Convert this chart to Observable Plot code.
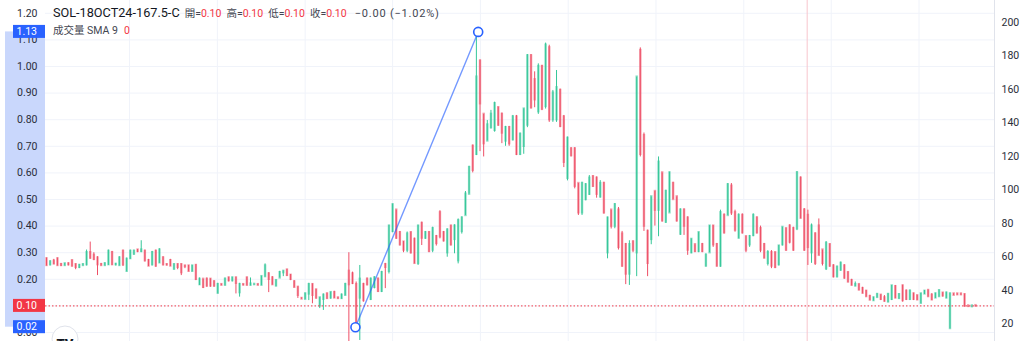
<!DOCTYPE html>
<html>
<head>
<meta charset="utf-8">
<script src="https://cdn.jsdelivr.net/npm/d3@7"></script>
<script src="https://cdn.jsdelivr.net/npm/@observablehq/plot@0.6"></script>
<style>
  html, body { margin: 0; padding: 0; background: #fff; overflow: hidden; }
  #wrap { position: relative; width: 1024px; height: 341px; }
  #hdr { position: absolute; left: 53px; top: 3px; font-family: Roboto, "Noto Sans CJK TC", sans-serif; color: #131722; pointer-events: none; white-space: nowrap; }
  #l1 { height: 18px; line-height: 18px; }
  #l1 .sym { font-size: 12.7px; }
  #l1 .it { font-size: 10.5px; margin-left: 5px; color: #434651; }
  #l1 .it:first-of-type { margin-left: 11px; }
  #l1 .chg { font-size: 11px; letter-spacing: 0.8px; margin-left: 8px; }
  .v { color: #f23645; }
  #l2 { font-size: 10.5px; line-height: 14px; margin-top: 3px; color: #434651; }
  #l2 .v { margin-left: 6px; }
</style>
</head>
<body>
<div id="wrap">
  <div id="chart"></div>
  <div id="hdr"><div id="l1"></div><div id="l2"></div></div>
</div>
<script>
// ---------- data ----------
const symbol = "SOL-18OCT24-167.5-C";
const ohlcLabels = ["開", "高", "低", "收"];
const changeAbs = -0.001;
const changePct = -1.02;
const volumeLabel = "成交量 SMA 9";
const volumeValue = 0;

const open = [
.277,.255,.268,.277,.255,.252,.258,.27,.255,.245,
.252,.255,.30,.29,.28,.255,.252,.255,.30,.255,
.252,.305,.23,.278,.295,.31,.305,.305,.27,.255,
.305,.262,.28,.255,.27,.238,.255,.255,.25,.25,
.23,.252,.18,.20,.20,.20,.19,.148,.18,.178,
.205,.195,.205,.15,.18,.205,.178,.18,.18,.178,
.21,.22,.205,.175,.205,.225,.235,.215,.19,.17,
.128,.125,.145,.18,.16,.10,.125,.145,.13,.15,
.13,.128,.14,.23,.22,.18,.13,.18,.20,.125,
.17,.20,.155,.255,.23,.38,.46,.375,.34,.31,
.375,.35,.26,.41,.355,.375,.31,.36,.45,.375,
.30,.40,.35,.27,.38,.44,.52,.70,.67,1.02,
.82,.72,.77,.76,.845,.82,.72,.77,.725,.81,
.67,.70,.78,1.04,.95,.83,1.0,.85,1.07,.80,
.80,.91,.81,.58,.69,.69,.56,.45,.50,.52,
.585,.58,.51,.56,.30,.46,.40,.46,.37,.33,
.22,.34,.30,1.06,.74,.38,.35,.53,.46,.60,
.415,.45,.56,.51,.37,.46,.43,.30,.33,.305,
.33,.25,.30,.40,.33,.25,.44,.44,.55,.45,
.355,.44,.36,.33,.365,.43,.39,.33,.26,.30,
.30,.255,.33,.39,.40,.39,.39,.58,.46,.44,
.30,.37,.40,.31,.24,.33,.25,.21,.235,.25,
.225,.195,.175,.18,.165,.155,.135,.12,.132,.14,
.13,.115,.125,.172,.128,.175,.155,.125,.145,.138,
.11,.145,.158,.14,.13,.135,.148,.13,.015,.145,
.145,.145,.142,.10,.097,.101];

const high = [
.28,.27,.275,.28,.26,.26,.262,.272,.258,.256,
.258,.31,.34,.30,.285,.26,.262,.31,.305,.26,
.285,.31,.28,.31,.31,.312,.345,.31,.275,.305,
.31,.315,.285,.258,.275,.258,.258,.258,.252,.252,
.252,.255,.205,.20,.205,.202,.195,.185,.182,.205,
.208,.208,.208,.185,.182,.208,.205,.182,.182,.212,
.258,.225,.21,.198,.23,.232,.237,.218,.195,.172,
.13,.148,.185,.183,.162,.132,.145,.148,.152,.155,
.132,.145,.185,.30,.227,.19,.252,.185,.205,.205,
.21,.205,.23,.26,.403,.483,.46,.38,.342,.378,
.378,.355,.403,.415,.38,.38,.396,.365,.458,.38,
.39,.403,.405,.427,.435,.53,.625,.705,1.12,1.025,
.82,.797,.835,.866,.847,.825,.775,.775,.816,.816,
.75,.841,1.045,1.045,.98,1.01,1.004,1.088,1.08,.91,
.985,.915,.816,.735,.695,.695,.56,.565,.56,.59,
.59,.585,.571,.565,.434,.46,.485,.47,.38,.335,
.345,.345,.96,1.07,.75,.385,.51,.53,.66,.60,
.535,.603,.565,.51,.465,.465,.435,.352,.33,.377,
.335,.296,.402,.402,.335,.46,.446,.56,.56,.46,
.446,.446,.362,.365,.446,.435,.40,.335,.308,.308,
.302,.327,.396,.392,.405,.396,.605,.585,.466,.46,
.408,.375,.427,.31,.342,.333,.255,.25,.265,.255,
.228,.20,.19,.182,.17,.158,.14,.133,.146,.142,
.139,.146,.177,.177,.146,.178,.16,.16,.148,.14,
.147,.158,.16,.146,.148,.16,.15,.152,.148,.146,
.146,.146,.145,.10,.10,.101];

const low = [
.25,.25,.255,.25,.248,.25,.25,.246,.236,.24,
.25,.25,.275,.27,.214,.25,.25,.252,.252,.25,
.25,.248,.228,.275,.29,.30,.30,.265,.248,.25,
.245,.26,.25,.25,.248,.235,.236,.214,.24,.228,
.228,.195,.177,.165,.17,.17,.17,.145,.176,.175,
.19,.19,.145,.133,.175,.175,.175,.178,.176,.176,
.208,.15,.178,.172,.205,.21,.21,.195,.168,.128,
.125,.124,.12,.108,.125,.09,.083,.125,.125,.128,
.125,.125,.138,-.04,.18,.02,-.03,.114,.175,.12,
.164,.15,.15,.165,.22,.375,.35,.325,.30,.30,
.295,.258,.252,.327,.35,.30,.30,.325,.352,.34,
.283,.325,.296,.258,.37,.44,.52,.60,.665,.68,
.66,.72,.765,.753,.775,.71,.70,.70,.72,.665,
.665,.67,.77,.84,.845,.82,.834,.84,.79,.79,
.79,.77,.62,.57,.66,.54,.44,.44,.495,.515,
.545,.505,.505,.445,.277,.389,.39,.31,.245,.18,
.177,.30,.21,.66,.38,.21,.33,.40,.36,.415,
.41,.45,.50,.415,.365,.365,.29,.296,.30,.30,
.30,.246,.30,.32,.246,.245,.37,.44,.44,.377,
.352,.37,.30,.32,.36,.37,.30,.277,.25,.24,
.24,.25,.325,.305,.333,.305,.383,.427,.305,.252,
.26,.252,.289,.25,.233,.245,.205,.205,.23,.20,
.187,.175,.172,.157,.145,.133,.12,.118,.13,.12,
.114,.112,.12,.127,.125,.114,.12,.12,.12,.12,
.108,.143,.133,.12,.128,.133,.133,.127,.014,.139,
.14,.14,.095,.095,.095,.096];

const close = [
.252,.265,.258,.252,.252,.258,.255,.25,.245,.252,
.255,.30,.28,.275,.255,.252,.258,.305,.255,.256,
.28,.255,.275,.305,.305,.305,.31,.27,.25,.30,
.25,.31,.255,.254,.25,.255,.245,.225,.248,.23,
.25,.20,.20,.17,.175,.175,.175,.18,.178,.20,
.195,.205,.185,.18,.179,.178,.182,.181,.178,.21,
.25,.20,.18,.195,.225,.23,.215,.20,.17,.14,
.126,.145,.18,.14,.13,.13,.14,.128,.15,.13,
.128,.14,.18,.18,.185,.03,.20,.12,.18,.20,
.205,.155,.225,.245,.40,.48,.355,.33,.31,.37,
.30,.26,.40,.355,.375,.305,.39,.335,.36,.345,
.385,.33,.40,.42,.43,.52,.62,.61,.96,.86,
.71,.78,.82,.86,.78,.75,.77,.71,.81,.67,
.745,.84,1.04,.845,.875,1.0,.84,1.08,.80,.90,
.92,.775,.64,.73,.665,.55,.45,.56,.555,.58,
.55,.52,.56,.45,.43,.40,.48,.32,.25,.22,
.33,.31,.96,.67,.40,.26,.51,.46,.64,.42,
.53,.60,.50,.42,.46,.40,.31,.35,.305,.375,
.305,.29,.40,.33,.25,.45,.375,.555,.45,.385,
.44,.375,.31,.36,.44,.375,.31,.28,.30,.25,
.245,.325,.395,.31,.34,.31,.60,.43,.31,.32,
.40,.26,.29,.26,.335,.25,.21,.245,.26,.205,
.19,.178,.18,.16,.148,.135,.122,.13,.143,.125,
.118,.143,.175,.13,.142,.12,.125,.155,.125,.123,
.145,.155,.135,.123,.145,.157,.138,.148,.145,.14,
.142,.142,.10,.098,.10,.10];

// axis ticks
const leftTicks = [0, 0.1, 0.2, 0.3, 0.4, 0.5, 0.6, 0.7, 0.8, 0.9, 1.0, 1.1, 1.2];
const rightTicks = [20, 40, 60, 80, 100, 120, 140, 160, 180, 200];
const rightK = 158.9, rightB = 14.8;          // right axis value = price * k + b
const gridX = [22.8, 46.9, 71, 95, 119.1, 143.2, 167.3, 191.4, 215.4, 239.5]; // bar index of day lines
const markerLines = [208.8];
const lastPrice = 0.10;
const trend = [{i: 84.8, p: 0.02}, {i: 118.5, p: 1.13}];
const boxes = [{p: 1.13, fill: "#2962ff"}, {p: 0.10, fill: "#f23645"}, {p: 0.02, fill: "#2962ff"}];

// ---------- chart ----------
const n = Math.min(open.length, high.length, low.length, close.length);
const candles = d3.range(n).map(i => ({i, open: open[i], high: high[i], low: low[i], close: close[i]}));
const UP = "#35c799", DOWN = "#ee4f66";
const col = d => d.close >= d.open ? UP : DOWN;
const X0 = -0.2745, X1 = 260.22;
const Y0 = -0.0338, Y1 = 1.2481;
const FONT = "Roboto, 'Noto Sans', sans-serif";

const chart = Plot.plot({
  width: 1024, height: 341,
  marginLeft: 45, marginRight: 30, marginTop: 0, marginBottom: 0,
  x: {domain: [X0, X1], axis: null},
  y: {domain: [Y0, Y1], axis: null},
  color: {type: "identity"},
  style: {fontFamily: FONT, background: "white", overflow: "visible"},
  marks: [
    Plot.ruleY(leftTicks, {stroke: "#f0f3fa"}),
    Plot.ruleX(gridX, {stroke: "#f0f3fa"}),
    Plot.ruleX(markerLines, {stroke: "#f8c6cd"}),
    Plot.ruleX(candles, {x: "i", y1: "open", y2: "close", stroke: col, strokeWidth: 2.4, strokeOpacity: 0.58, strokeLinecap: "square"}),
    Plot.ruleX(candles, {x: "i", y1: "low", y2: "high", stroke: col, strokeWidth: 1}),
    Plot.ruleY([lastPrice], {stroke: "#f23645", strokeDasharray: "1.5,2"}),
    Plot.line(trend, {x: "i", y: "p", stroke: "#2962ff", strokeOpacity: 0.65, strokeWidth: 1.4}),
    Plot.dot(trend, {x: "i", y: "p", r: 4.5, stroke: "#2962ff", fill: "white", strokeWidth: 1.6}),
    Plot.ruleX([X1], {stroke: "#e0e3eb"}),
    Plot.text(leftTicks, {y: d => d, text: d => d.toFixed(2), frameAnchor: "left", dx: -8, textAnchor: "end", fill: "#2a2e39", fontSize: 10.5}),
    Plot.text(rightTicks, {y: d => (d - rightB) / rightK, text: d => String(d), frameAnchor: "right", dx: 7, textAnchor: "start", fill: "#2a2e39", fontSize: 10.5})
  ]
});
document.getElementById("chart").appendChild(chart);

// price-axis highlight band and label boxes, placed with the plot's y scale
const svg = d3.select(chart);
const ys = chart.scale("y");
const py = v => ys.apply(v);
svg.insert("rect", "g")
  .attr("x", 5).attr("width", 40)
  .attr("y", py(trend[1].p)).attr("height", py(trend[0].p) - py(trend[1].p))
  .attr("fill", "#c9d7fc");
for (const b of boxes) {
  const g = svg.append("g");
  g.append("rect").attr("x", 13).attr("width", 32).attr("y", py(b.p) - 6.5).attr("height", 13).attr("fill", b.fill);
  g.append("text").attr("x", 37).attr("y", py(b.p)).attr("dy", "0.35em").attr("text-anchor", "end")
    .attr("fill", "white").attr("font-size", 10.5).attr("font-family", FONT).text(b.p.toFixed(2));
}
// logo
const logo = svg.append("g").attr("transform", "translate(65,339)");
logo.append("circle").attr("r", 13).attr("fill", "white").attr("stroke", "#e0e3eb");
logo.append("text").attr("y", 9).attr("text-anchor", "middle").attr("font-size", 13).attr("font-weight", 900)
  .attr("font-family", FONT).attr("fill", "#131722").text("TV");

// ---------- header ----------
const last = candles[n - 1];
const vals = [last.open, last.high, last.low, last.close];
const fmt = v => v.toFixed(2).replace("-", "\u2212");
let h1 = `<span class="sym">${symbol}</span>`;
ohlcLabels.forEach((lab, k) => { h1 += `<span class="it">${lab}=<span class="v">${vals[k].toFixed(2)}</span></span>`; });
h1 += `<span class="it v chg">${fmt(changeAbs)} (${fmt(changePct)}%)</span>`;
document.getElementById("l1").innerHTML = h1;
document.getElementById("l2").innerHTML = `${volumeLabel}<span class="v">${volumeValue}</span>`;
</script>
</body>
</html>
